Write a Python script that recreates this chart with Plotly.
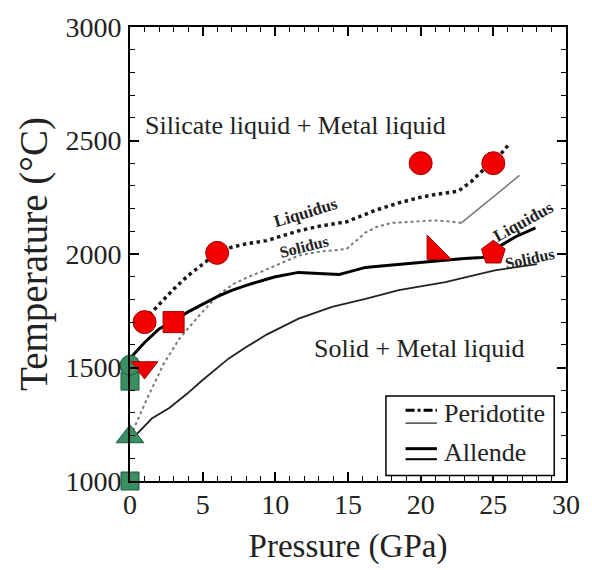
import plotly.graph_objects as go

# ---------------- data ----------------
# Peridotite liquidus (dotted)
per_liq_P = [1, 2, 3, 4, 5, 6, 7, 8, 9.4, 11.6, 13, 14.9, 16, 17, 18.5, 20, 21, 22, 22.6, 23.5, 24.2, 25, 26]
per_liq_T = [1710, 1780, 1845, 1905, 1955, 2005, 2030, 2045, 2059, 2102, 2122, 2142, 2170, 2195, 2225, 2250, 2262, 2272, 2277, 2320, 2364, 2400, 2478]
# Peridotite solidus (grey dotted part, then grey solid tail)
per_sol_P = [0.2, 1.2, 2.3, 3.4, 4.8, 6, 7.1, 8, 9.4, 11.6, 13, 14.9, 16.2, 17, 18, 20, 21, 22, 22.8]
per_sol_T = [1222, 1366, 1514, 1627, 1732, 1815, 1867, 1895, 1932, 1993, 2010, 2022, 2094, 2120, 2137, 2146, 2148, 2143, 2137]
per_sol_tail_P = [22.8, 24, 25, 26, 26.8]
per_sol_tail_T = [2137, 2200, 2252, 2304, 2346]
# Allende liquidus (thick solid)
all_liq_P = [0, 1, 2, 3, 4, 5, 6, 7, 8, 9.4, 10, 11.6, 13, 14.4, 15, 16.2, 17.1, 18.5, 20, 21.9, 23, 24.2, 25, 25.5, 26.5, 27.9]
all_liq_T = [1540, 1610, 1670, 1705, 1745, 1780, 1812, 1840, 1862, 1889, 1900, 1919, 1916, 1910, 1920, 1941, 1946, 1954, 1962, 1976, 1980, 1985, 1992, 2037, 2075, 2115]
# Allende solidus (thin solid)
all_sol_P = [0.3, 0.7, 1.5, 2.7, 3.9, 5, 6.8, 8, 9.4, 11.6, 13.9, 16.2, 18.5, 21.7, 25.1, 28]
all_sol_T = [1195, 1222, 1275, 1322, 1383, 1445, 1540, 1590, 1645, 1715, 1767, 1802, 1841, 1876, 1928, 1955]

# experimental points
red_circle_P = [1, 6, 20, 25]
red_circle_T = [1700, 2005, 2400, 2400]
red_square_P = [3]
red_square_T = [1700]
red_tri_down_P = [1]
red_tri_down_T = [1500]
red_tri_right_P = [21]
red_tri_right_T = [2012]
red_pent_P = [25]
red_pent_T = [2005]
green_circle_P = [0]
green_circle_T = [1510]
green_square_P = [0, 0]
green_square_T = [1440, 1000]
green_tri_P = [0]
green_tri_T = [1195]

x_ticks = [0, 5, 10, 15, 20, 25, 30]
y_ticks = [1000, 1500, 2000, 2500, 3000]

FONT = "Liberation Serif"
RED = "#f20000"
RED_EDGE = "#a00000"
GREEN = "#3a8f62"
GREEN_EDGE = "#1f5a3c"

fig = go.Figure()

# curves
fig.add_trace(go.Scatter(x=all_sol_P, y=all_sol_T, mode="lines",
                         line=dict(color="#222", width=1.8)))
fig.add_trace(go.Scatter(x=per_sol_P, y=per_sol_T, mode="lines",
                         line=dict(color="#7a7a7a", width=2, dash="dot")))
fig.add_trace(go.Scatter(x=per_sol_tail_P, y=per_sol_tail_T, mode="lines",
                         line=dict(color="#7a7a7a", width=1.6)))
fig.add_trace(go.Scatter(x=all_liq_P, y=all_liq_T, mode="lines",
                         line=dict(color="black", width=3)))
fig.add_trace(go.Scatter(x=per_liq_P, y=per_liq_T, mode="lines",
                         line=dict(color="#1a1a1a", width=3.5, dash="dot")))

def pts(x, y, sym, size, color, edge):
    fig.add_trace(go.Scatter(x=x, y=y, mode="markers", cliponaxis=False,
                             marker=dict(symbol=sym, size=size, color=color,
                                         line=dict(color=edge, width=1))))

pts(green_square_P, green_square_T, "square", 18, GREEN, GREEN_EDGE)
pts(green_tri_P, green_tri_T, "triangle-up", 24, GREEN, GREEN_EDGE)
pts(green_circle_P, green_circle_T, "circle", 20, GREEN, GREEN_EDGE)
pts(red_circle_P, red_circle_T, "circle", 23, RED, RED_EDGE)
pts(red_square_P, red_square_T, "square", 21, RED, RED_EDGE)
pts(red_tri_down_P, red_tri_down_T, "triangle-down", 23, RED, RED_EDGE)
pts(red_tri_right_P, red_tri_right_T, "triangle-sw", 27, RED, RED_EDGE)
pts(red_pent_P, red_pent_T, "pentagon", 25, RED, RED_EDGE)

# region / curve labels
ann = [
    dict(x=11.4, y=2564, text="Silicate liquid + Metal liquid", size=26, angle=0),
    dict(x=19.9, y=1584, text="Solid + Metal liquid", size=26, angle=0),
    dict(x=12.1, y=2183, text="<b>Liquidus</b>", size=17, angle=-17),
    dict(x=12.0, y=2035, text="<b>Solidus</b>", size=16, angle=-14),
    dict(x=27.1, y=2141, text="<b>Liquidus</b>", size=17, angle=-29),
    dict(x=27.5, y=1978, text="<b>Solidus</b>", size=16, angle=-12),
]
for a in ann:
    fig.add_annotation(x=a["x"], y=a["y"], text=a["text"], showarrow=False,
                       textangle=a["angle"],
                       font=dict(family=FONT, size=a["size"], color="#222"))

# legend box (drawn manually)
fig.add_shape(type="rect", xref="paper", yref="paper", x0=0.587, x1=0.973,
              y0=0.012, y1=0.187, line=dict(color="black", width=1.5),
              fillcolor="white")
fig.add_shape(type="line", xref="paper", yref="paper", x0=0.632, x1=0.704,
              y0=0.156, y1=0.156, line=dict(color="black", width=3, dash="dashdot"))
fig.add_shape(type="line", xref="paper", yref="paper", x0=0.632, x1=0.704,
              y0=0.1275, y1=0.1275, line=dict(color="#555", width=1.6))
fig.add_shape(type="line", xref="paper", yref="paper", x0=0.632, x1=0.704,
              y0=0.0712, y1=0.0712, line=dict(color="black", width=3))
fig.add_shape(type="line", xref="paper", yref="paper", x0=0.632, x1=0.704,
              y0=0.048, y1=0.048, line=dict(color="black", width=2))
fig.add_annotation(xref="paper", yref="paper", x=0.715, y=0.148, xanchor="left",
                   yanchor="middle", text="Peridotite", showarrow=False,
                   font=dict(family=FONT, size=26, color="#222"))
fig.add_annotation(xref="paper", yref="paper", x=0.715, y=0.063, xanchor="left",
                   yanchor="middle", text="Allende", showarrow=False,
                   font=dict(family=FONT, size=26, color="#222"))

axis_common = dict(showgrid=False, zeroline=False, showline=True, linewidth=2,
                   linecolor="black", mirror="ticks", ticks="inside", ticklen=9,
                   tickwidth=1.5, tickcolor="black",
                   tickfont=dict(family=FONT, size=28, color="#222"))

fig.update_xaxes(range=[0, 30], tickvals=x_ticks, ticktext=[str(v) for v in x_ticks],
                 minor=dict(ticks="inside", ticklen=5, dtick=1, tickcolor="black", tickwidth=1.2),
                 ticklabelstandoff=-3,
                 title=dict(text="Pressure (GPa)", standoff=15,
                            font=dict(family=FONT, size=33, color="#222")),
                 **axis_common)
fig.update_yaxes(range=[1000, 3000], tickvals=y_ticks, ticktext=[str(v) for v in y_ticks],
                 minor=dict(ticks="inside", ticklen=5, dtick=100, tickcolor="black", tickwidth=1.2),
                 ticklabelstandoff=1,
                 title=dict(text="Temperature (°C)", standoff=6,
                            font=dict(family=FONT, size=39, color="#222")),
                 **axis_common)

fig.update_layout(width=592, height=570, margin=dict(l=130, r=24, t=22, b=89),
                  plot_bgcolor="white", paper_bgcolor="white", showlegend=False,
                  font=dict(family=FONT, color="#222"))

fig.write_html("out.html")
